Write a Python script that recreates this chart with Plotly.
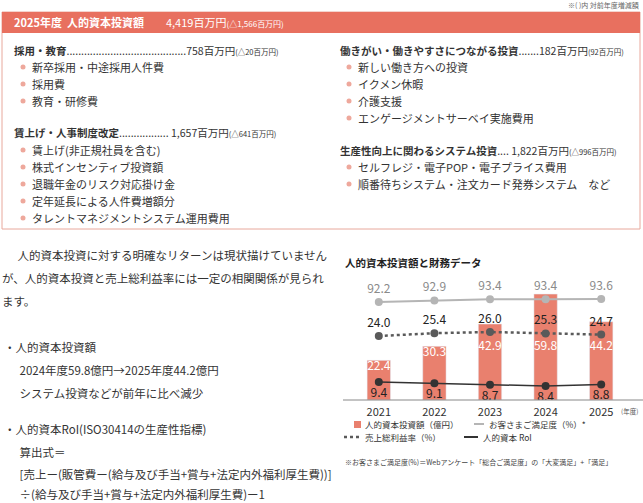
import plotly.graph_objects as go

W, H = 643, 503
FONT = "Noto Sans CJK JP"
CORAL = "#e8705f"
BAR = "#e9806e"

years = ["2021", "2022", "2023", "2024", "2025"]
invest = [22.4, 30.3, 42.9, 59.8, 44.2]       # 人的資本投資額（億円）
satisfaction = [92.2, 92.9, 93.4, 93.4, 93.6]  # お客さまご満足度（%）
gross_margin = [24.0, 25.4, 26.0, 25.3, 24.7]  # 売上総利益率（%）
roi = [9.4, 9.1, 8.7, 8.4, 8.8]                # 人的資本RoI


def px(x):
    return x / W


def py(y):
    return 1 - y / H


fig = go.Figure()

fig.add_trace(go.Bar(x=years, y=invest, marker_color=BAR, width=0.42, hoverinfo="skip"))
# bar value labels, kept clear of the line series
fig.add_trace(go.Scatter(x=years, y=[min(v - 4, 30) for v in invest], mode="text",
                         text=[f"{v:.1f}" for v in invest],
                         textfont=dict(color="white", size=12, family=FONT), hoverinfo="skip"))
fig.add_trace(go.Scatter(x=years, y=satisfaction, yaxis="y2", mode="lines+markers+text",
                         line=dict(color="#b5b5b5", width=2), marker=dict(size=8, color="#b5b5b5"),
                         text=[f"{v:.1f}" for v in satisfaction], textposition="top center",
                         textfont=dict(color="#8a8a8a", size=12, family=FONT)))
fig.add_trace(go.Scatter(x=years, y=gross_margin, yaxis="y3", mode="lines+markers+text",
                         line=dict(color="#5a5a5a", width=2.5, dash="dot"),
                         marker=dict(size=8, color="#5a5a5a"),
                         text=[f"{v:.1f}" for v in gross_margin], textposition="top center",
                         textfont=dict(color="#222", size=12, family=FONT)))
fig.add_trace(go.Scatter(x=years, y=roi, yaxis="y4", mode="lines+markers+text",
                         line=dict(color="#333", width=1.5),
                         marker=dict(size=8, color="#333"),
                         text=[f"{v:.1f}" for v in roi], textposition="bottom center",
                         textfont=dict(color="#222", size=12, family=FONT)))

ydom = [py(400), py(270)]
hid = dict(visible=False, domain=ydom, fixedrange=True)
fig.update_layout(
    width=W, height=H, margin=dict(l=0, r=0, t=0, b=0),
    paper_bgcolor="white", plot_bgcolor="rgba(0,0,0,0)", showlegend=False,
    font=dict(family=FONT, color="#333"),
    xaxis=dict(domain=[px(351), px(629)], range=[-0.5, 4.5], showgrid=False,
               ticks="", tickfont=dict(size=11, color="#333"), showline=False,
               ticklabelstandoff=4),
    yaxis=dict(range=[0, 73.4], **hid),
    yaxis2=dict(range=[46.4, 107.1], overlaying="y", **hid),
    yaxis3=dict(range=[-8, 57], overlaying="y", **hid),
    yaxis4=dict(range=[4.9, 37.4], overlaying="y", **hid),
)

shapes = []
ann = []


def text(x, y, s, size=11, color="#333", anchor="left", bold=False):
    if bold:
        s = f"<b>{s}</b>"
    ann.append(dict(x=px(x), y=py(y), xref="paper", yref="paper", text=s, showarrow=False,
                    xanchor=anchor, yanchor="middle", font=dict(size=size, color=color, family=FONT)))


# top box
shapes.append(dict(type="rect", xref="paper", yref="paper", x0=px(2), x1=px(640), y0=py(229), y1=py(12),
                   line=dict(color="#e8a89c", width=1)))
shapes.append(dict(type="rect", xref="paper", yref="paper", x0=px(2), x1=px(640), y0=py(33), y1=py(12),
                   fillcolor=CORAL, line=dict(width=0)))
text(641, 5, "※( )内 対前年度増減額", 7, "#666", "right")
text(12, 22, "<b>2025年度  人的資本投資額</b>　　4,419百万円<span style='font-size:8px'>(△1,566百万円)</span>", 11, "white")

small = "<span style='font-size:7.5px'>(%s)</span>"
text(12, 50, "<b>採用・教育</b>.........................................758百万円" + small % "△20百万円", 10.5)
text(12, 133, "<b>賃上げ・人事制度改定</b>................. 1,657百万円" + small % "△641百万円", 10.5)
text(338, 50, "<b>働きがい・働きやすさにつながる投資</b>.......182百万円" + small % "92百万円", 10.5)
text(338, 150, "<b>生産性向上に関わるシステム投資</b>.... 1,822百万円" + small % "△996百万円", 10.5)


def bullets(x, y0, items):
    for i, s in enumerate(items):
        y = y0 + i * 17
        shapes.append(dict(type="circle", xref="paper", yref="paper", x0=px(x - 2.5), x1=px(x + 2.5),
                           y0=py(y + 2.5), y1=py(y - 2.5), fillcolor="#eea89c", line=dict(width=0)))
        text(x + 7, y, s, 11)


bullets(23, 67, ["新卒採用・中途採用人件費", "採用費", "教育・研修費"])
bullets(23, 150, ["賃上げ(非正規社員を含む)", "株式インセンティブ投資額", "退職年金のリスク対応掛け金",
                  "定年延長による人件費増額分", "タレントマネジメントシステム運用費用"])
bullets(349, 67, ["新しい働き方への投資", "イクメン休暇", "介護支援", "エンゲージメントサーベイ実施費用"])
bullets(349, 167, ["セルフレジ・電子POP・電子プライス費用", "順番待ちシステム・注文カード発券システム　など"])

# left body text
body = [
    (4, 257, "　人的資本投資に対する明確なリターンは現状描けていません"),
    (0, 280, "が、人的資本投資と売上総利益率には一定の相関関係が見られ"),
    (0, 303, "ます。"),
    (2, 349, "・人的資本投資額"),
    (6, 372, "　2024年度59.8億円→2025年度44.2億円"),
    (6, 395, "　システム投資などが前年に比べ減少"),
    (2, 431, "・人的資本RoI(ISO30414の生産性指標)"),
    (6, 454, "　算出式＝"),
    (6, 476, "　[売上ー(販管費ー(給与及び手当+賞与+法定内外福利厚生費))]"),
    (6, 496, "　÷(給与及び手当+賞与+法定内外福利厚生費)ー1"),
]
for x, y, s in body:
    text(x, y - 2, s, 11.5)

# chart extras
text(343, 262, "<b>人的資本投資額と財務データ</b>", 10.5, "#222")
shapes.append(dict(type="line", xref="paper", yref="paper", x0=px(343), x1=px(643), y0=py(400), y1=py(400),
                   line=dict(color="#888", width=1)))
text(619, 411, "(年度)", 6.5, "#555")

# legend
shapes.append(dict(type="rect", xref="paper", yref="paper", x0=px(354), x1=px(361), y0=py(428), y1=py(421),
                   fillcolor=BAR, line=dict(width=0)))
text(363, 424, "人的資本投資額（億円）", 8.5)
shapes.append(dict(type="line", xref="paper", yref="paper", x0=px(474), x1=px(484), y0=py(424), y1=py(424),
                   line=dict(color="#b5b5b5", width=2)))
text(487, 424, "お客さまご満足度（%）*", 8.5)
shapes.append(dict(type="line", xref="paper", yref="paper", x0=px(344), x1=px(361), y0=py(437), y1=py(437),
                   line=dict(color="#5a5a5a", width=2.5, dash="dot")))
text(363, 437, "売上総利益率（%）", 8.5)
shapes.append(dict(type="line", xref="paper", yref="paper", x0=px(464), x1=px(478), y0=py(437), y1=py(437),
                   line=dict(color="#333", width=2)))
text(481, 437, "人的資本 RoI", 8.5)
text(343, 462, "※お客さまご満足度(%)＝Webアンケート「総合ご満足度」の「大変満足」+「満足」", 7, "#444")

fig.update_layout(shapes=shapes, annotations=ann)
fig.write_html("out.html", config={"displayModeBar": False})

# drop the browser's default body margin so the figure fills the window exactly
with open("out.html", encoding="utf-8") as f:
    page = f.read()
page = page.replace("<body>", '<body style="margin:0;overflow:hidden">', 1)
with open("out.html", "w", encoding="utf-8") as f:
    f.write(page)
